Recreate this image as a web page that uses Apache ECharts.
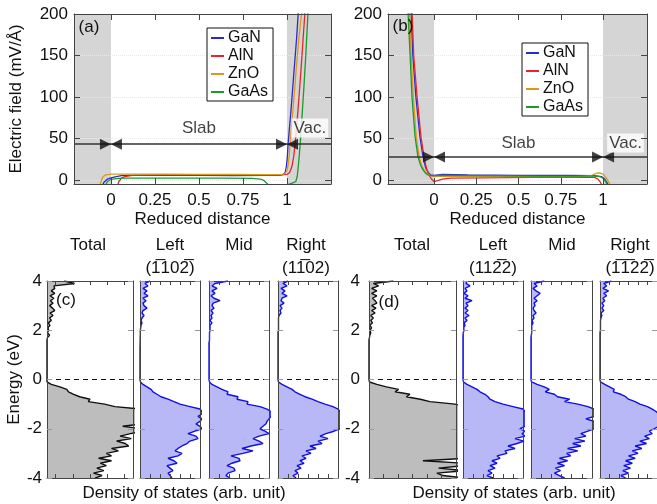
<!DOCTYPE html>
<html>
<head>
<meta charset="utf-8">
<title>Electric field and DOS</title>
<script src="https://cdn.jsdelivr.net/npm/echarts@6.0.0/dist/echarts.min.js"></script>
<style>
  html, body { margin: 0; padding: 0; background: #fff; }
  #main { width: 657px; height: 504px; }
</style>
</head>
<body>
<div id="main"></div>
<script>
const FONT = '"Liberation Sans", Arial, Helvetica, sans-serif';

// ---------- (a)(b) electric field: [reduced distance, mV/Å] ----------
const materials = ['GaN', 'AlN', 'ZnO', 'GaAs'];
const lineColors = ['#2a2ad2', '#e8252d', '#d99a1c', '#1c9a2c'];
const fieldTicksX = [0, 0.25, 0.5, 0.75, 1];
const fieldTicksY = [0, 50, 100, 150, 200];

const aGaN = [[-0.05,-8],[-0.04,-3],[-0.02,1],[0,2.5],[0.03,4],[0.06,5],[0.1,5.5],[0.3,5.5],[0.5,5.3],[0.7,5.2],[0.9,5.3],[0.96,5.6],[0.98,6.5],[0.99,9],[0.997,17],[1.002,28],[1.006,43],[1.015,65],[1.025,90],[1.035,118],[1.045,145],[1.055,172],[1.065,205]];
const aAlN = [[0.035,-8],[0.045,-2],[0.06,2],[0.08,4],[0.12,5.5],[0.3,6],[0.5,6],[0.7,5.8],[0.9,5.8],[0.97,6],[1.0,6.5],[1.015,9],[1.028,16],[1.038,28],[1.046,43],[1.058,72],[1.07,105],[1.082,140],[1.093,175],[1.103,205]];
const aZnO = [[-0.065,-8],[-0.055,-1],[-0.045,4],[-0.03,6],[0,7],[0.1,7],[0.3,6.8],[0.5,6.6],[0.7,6.5],[0.9,6.4],[0.97,6.5],[0.99,7.5],[1.0,11],[1.008,20],[1.013,30],[1.017,43],[1.028,70],[1.04,100],[1.053,135],[1.067,170],[1.085,205]];
const aGaAs = [[-0.035,-8],[-0.02,-2],[0,0.5],[0.03,1.5],[0.07,2],[0.3,2],[0.6,2],[0.8,1.8],[0.85,1],[0.87,-1],[0.89,-5],[0.91,-12],[0.98,-12],[1.0,-6],[1.03,-4],[1.05,-2],[1.058,4],[1.065,18],[1.07,30],[1.075,43],[1.085,75],[1.097,115],[1.108,155],[1.12,205]];

const bGaN = [[-0.136,205],[-0.125,150],[-0.107,100],[-0.083,52],[-0.065,28],[-0.05,15],[-0.035,9],[-0.02,6],[0,5.5],[0.05,6.5],[0.2,6],[0.5,5.5],[0.8,5.3],[0.95,5],[0.99,4],[1.01,1],[1.025,-4],[1.035,-8]];
const bAlN = [[-0.13,205],[-0.12,150],[-0.1,100],[-0.077,52],[-0.059,28],[-0.045,14],[-0.03,6],[-0.015,1],[0,-2],[0.02,-1],[0.05,1],[0.1,2],[0.3,2.5],[0.6,3],[0.9,3],[0.95,3],[0.97,1],[0.985,-3],[0.995,-8]];
const bZnO = [[-0.145,205],[-0.135,150],[-0.122,100],[-0.105,52],[-0.088,28],[-0.07,16],[-0.05,9],[-0.03,6],[0,4],[0.05,4.5],[0.3,4],[0.6,4],[0.85,4],[0.93,5],[0.96,8],[0.98,8.5],[1.0,7],[1.02,2],[1.035,-3],[1.045,-8]];
const bGaAs = [[-0.154,205],[-0.142,153],[-0.13,100],[-0.112,52],[-0.095,28],[-0.08,18],[-0.065,12],[-0.05,8],[-0.035,6],[-0.015,5],[0,5],[0.05,5.5],[0.1,5.5],[0.3,5],[0.6,4.5],[0.85,4.5],[0.95,4.5],[0.98,4],[1.0,2],[1.015,-2],[1.03,-8]];

// ---------- (c)(d) density of states, E = 4.0 ... -4.0 eV (step 0.1) ----------
const energies = [];
for (let k = 40; k >= -40; k--) energies.push((k / 10).toFixed(1));

const cTotal = [20,32,8,9,5,9,3.5,8,4,7, 3,6.5,9,3.5,7,3,5,1.5,3.5,1, 2,0.5,3,0.5,0,0,0,0,0,0, 0,0,0,0,0,0,0,0,0,0, 0,0,5,15,23,25,31,38,50,48, 67,79,110,110,110,110,110,110,110,88, 110,110,97,85,98,81,91,95,75,83, 69,75,60,75,62,69,58,66,54,64, 56];
const cLeft = [10,5,8,3,7,4,8,3,6,3, 4,7,3,2,4,2,1,2,1,0.7, 0.3,0.3,0.3,0.2,0.2,0.1,0.1,0,0,0, 0,0,0,0,0,0,0,0,0,0, 0,0.5,3,7,11,13,17,21,28,34, 40,50,60,62,62,58,62,60,56,60, 62,55,48,56,58,50,47,42,38,35, 42,38,28,34,37,27,30,33,28,30, 32];
const cMid = [19,6,3,8,3,6,2,5,11,4, 3,5,2,4,2,3,1,3,1,1, 1,0.5,0.5,0.5,0.5,0,0,0,0,0, 0,0,0,0,0,0,0,0,0,0, 0,0.5,3,8,13,19,18,29,28,39, 38,51,58,62,62,62,60,58,57,54, 51,56,60,50,44,50,54,42,33,44, 34,22,30,31,23,18,25,26,19,17, 21];
const cRight = [10,5,9,3,7,4,9,4,3,6, 2,4,2,3,1,0.5,0.5,0.5,0.5,0.5, 0.5,0,0,0,0,0,0,0,0,0, 0,0,0,0,0,0,0,0,0,0, 0,0.5,4,9,14,17,22,27,34,40, 47,55,60,62,62,62,62,62,62,62, 62,56,48,42,50,40,44,32,38,28, 33,24,28,22,26,19,23,17,20,15, 18];
const dTotal = [28,5,11,3,9,3,9,4,7,9, 3,8,3,7,2,5,2,4,1,3, 1,2,1,0.5,0,0,0,0,0,0, 0,0,0,0,0,0,0,0,0,0, 0,0.5,9,20,34,30,47,43,59,70, 99,110,110,110,110,110,110,110,110,110, 110,110,110,110,110,110,110,110,110,110, 110,110,110,62,110,110,80,110,78,85, 110];
const dLeft = [4,3,7,2,4,1,5,2,9,3, 5,2,5,2,6,2,4,1,2,0.7, 1,0.3,0,0,0,0,0,0,0,0, 0,0,0,0,0,0,0,0,0,0, 0,0.5,4,9,14,17,22,25,27,32, 40,50,60,62,62,62,62,62,62,62, 57,62,59,62,52,61,54,45,52,42, 44,34,37,29,34,27,32,25,29,24, 30];
const dMid = [13,3,6,2,5,9,6,3,6,3, 4,2,3,5,2,3,1,2,0.7,0.7, 0.7,0.7,0.3,0,0,0,0,0,0,0, 0,0,0,0,0,0,0,0,0,0, 0,0.5,6,13,18,14,23,26,38,33, 46,56,62,62,62,62,54,62,62,62, 62,56,49,54,43,53,41,49,36,46, 35,39,28,36,26,33,24,29,23,28, 33];
const dRight = [12,4,7,3,9,4,7,3,5,2, 4,2,4,1,2,1,0.5,0.5,0.5,0.5, 0.5,0,0,0,0,0,0,0,0,0, 0,0,0,0,0,0,0,0,0,0, 0,0.5,5,10,15,14,22,27,30,37, 42,50,55,59,62,62,62,62,62,62, 57,52,55,47,52,42,49,37,44,34, 40,30,37,27,34,25,32,24,30,22, 27];

const grids = [], xAxes = [], yAxes = [], series = [];
const lab = { fontSize: 17, color: '#111', fontFamily: FONT };
const frameLine = { show: true, onZero: false, lineStyle: { color: '#444', width: 1 } };

function addFieldPanel(p) {
  const g = grids.length;
  grids.push({ left: p.box[0], top: p.box[1], width: p.box[2], height: p.box[3] });
  const xi = xAxes.length, yi = yAxes.length;
  const tick = (vals) => ({ show: true, inside: true, length: 6, customValues: vals, lineStyle: { color: '#444' } });
  xAxes.push({ type: 'value', gridIndex: g, position: 'bottom', min: p.xr[0], max: p.xr[1], z: 10,
    axisLine: frameLine, axisTick: tick(fieldTicksX), splitLine: { show: false },
    axisLabel: { ...lab, margin: 8, customValues: fieldTicksX },
    name: 'Reduced distance', nameLocation: 'middle', nameGap: 27, nameTextStyle: lab });
  xAxes.push({ type: 'value', gridIndex: g, position: 'top', min: p.xr[0], max: p.xr[1], z: 10,
    axisLine: frameLine, axisTick: tick(fieldTicksX), splitLine: { show: false }, axisLabel: { show: false } });
  yAxes.push({ type: 'value', gridIndex: g, position: 'left', min: -5, max: 200, z: 10,
    axisLine: frameLine, axisTick: tick(fieldTicksY), splitLine: { show: false },
    axisLabel: { ...lab, margin: 6, customValues: fieldTicksY },
    name: p.yName || '', nameLocation: 'middle', nameGap: 49, nameRotate: 90, nameTextStyle: lab });
  yAxes.push({ type: 'value', gridIndex: g, position: 'right', min: -5, max: 200, z: 10,
    axisLine: frameLine, axisTick: tick(fieldTicksY), splitLine: { show: false }, axisLabel: { show: false } });
  const on = { xAxisIndex: xi, yAxisIndex: yi };

  // 真空区灰底 + 淡点线
  series.push({ type: 'line', ...on, data: [], silent: true,
    markArea: { silent: true, z: 1, itemStyle: { color: '#d5d5d5' },
      data: [[{ xAxis: p.xr[0] }, { xAxis: 0 }], [{ xAxis: 1 }, { xAxis: p.xr[1] }]] },
    markLine: { silent: true, z: 1.5, symbol: ['none', 'none'], label: { show: false },
      lineStyle: { color: '#e9e9e9', type: 'dotted', width: 1 },
      data: [0, 50, 100, 150].map(v => ({ yAxis: v })) } });

  p.curves.forEach((d, k) => series.push({ type: 'line', name: materials[k], ...on, data: d,
    showSymbol: false, z: 3, lineStyle: { color: lineColors[k], width: 1.3 }, itemStyle: { color: lineColors[k] } }));

  // Slab / Vac. 箭头
  series.push({ type: 'line', ...on, data: [], silent: true,
    markLine: { silent: true, symbol: ['none', 'none'], label: { show: false },
      lineStyle: { color: '#333', width: 1.5, type: 'solid' },
      data: [[{ coord: [p.xr[0], p.arrowY] }, { coord: [p.xr[1], p.arrowY] }]] } });
  series.push({ type: 'scatter', ...on, silent: true, z: 6, symbol: 'path://M0,0L10,5L0,10Z',
    symbolSize: [11, 11], symbolOffset: [-5.5, 0], itemStyle: { color: '#111' },
    data: [[0, p.arrowY], [1, p.arrowY]] });
  series.push({ type: 'scatter', ...on, silent: true, z: 6, symbol: 'path://M10,0L0,5L10,10Z',
    symbolSize: [11, 11], symbolOffset: [5.5, 0], itemStyle: { color: '#111' },
    data: [[0, p.arrowY], [1, p.arrowY]] });
  series.push({ type: 'scatter', ...on, silent: true, z: 7, symbolSize: 0,
    label: { show: true, position: 'inside', formatter: '{b}', ...lab },
    data: [{ name: 'Slab', value: [0.5, p.textY] },
           { name: 'Vac.', value: [p.vacX, p.textY], label: { backgroundColor: '#fff', padding: [2, 2, 0, 2] } }] });
}

function addDosPanel(p) {
  const g = grids.length;
  grids.push({ left: p.box[0], top: 281, width: p.box[1], height: 197 });
  const xi = xAxes.length, yi = yAxes.length;
  const every2 = (i) => i % 20 === 0;
  const xTick = { show: true, inside: true, length: 4, customValues: p.ticks, lineStyle: { color: '#444' } };
  const yTick = { show: true, inside: true, length: 5, interval: every2, lineStyle: { color: '#999' } };
  ['bottom', 'top'].forEach(pos => xAxes.push({ type: 'value', gridIndex: g, position: pos, min: 0, max: p.max, z: 10,
    axisLine: frameLine, axisTick: xTick, axisLabel: { show: false }, splitLine: { show: false } }));
  yAxes.push({ type: 'category', gridIndex: g, position: 'left', data: energies, inverse: true, boundaryGap: false, z: 10,
    axisLine: frameLine, axisTick: yTick, splitLine: { show: false },
    axisLabel: { ...lab, show: !!p.margin, interval: every2, margin: p.margin || 0, formatter: v => String(Number(v)) },
    name: p.yName || '', nameLocation: 'middle', nameGap: 22, nameRotate: 90, nameTextStyle: lab });
  yAxes.push({ type: 'category', gridIndex: g, position: 'right', data: energies, inverse: true, boundaryGap: false, z: 10,
    axisLine: frameLine, axisTick: yTick, splitLine: { show: false }, axisLabel: { show: false } });
  const stroke = p.total ? '#111' : '#1010e4';
  series.push({ type: 'line', xAxisIndex: xi, yAxisIndex: yi, data: p.values, showSymbol: false, silent: true, z: 2,
    lineStyle: { color: stroke, width: 1.4 }, itemStyle: { color: stroke },
    areaStyle: { color: p.total ? '#bdbdbd' : '#b8b8f6', opacity: 1 },
    markLine: { silent: true, symbol: ['none', 'none'], label: { show: false },
      lineStyle: { color: '#111', width: 1, type: [5, 4] }, data: [{ yAxis: '0.0' }] } });
}

addFieldPanel({ box: [74, 14, 257, 170], xr: [-0.21, 1.25], curves: [aGaN, aAlN, aZnO, aGaAs],
  arrowY: 43, textY: 62.5, vacX: 1.13, yName: 'Electric field (mV/Å)' });
addFieldPanel({ box: [388, 14, 259, 170], xr: [-0.272, 1.26], curves: [bGaN, bAlN, bZnO, bGaAs],
  arrowY: 27.6, textY: 44.5, vacX: 1.133 });

const sideTicks = [10, 20, 30, 40, 50];
addDosPanel({ box: [47, 86], max: 100, ticks: [10, 30, 50, 70, 90], values: cTotal, total: true, margin: 5, yName: 'Energy (eV)' });
addDosPanel({ box: [140, 60], max: 60, ticks: sideTicks, values: cLeft });
addDosPanel({ box: [209, 60], max: 60, ticks: sideTicks, values: cMid });
addDosPanel({ box: [278, 60], max: 60, ticks: sideTicks, values: cRight });
addDosPanel({ box: [369, 87], max: 100, ticks: [16.7, 33.3, 50, 66.7, 83.3], values: dTotal, total: true, margin: 9 });
addDosPanel({ box: [463, 60], max: 60, ticks: sideTicks, values: dLeft });
addDosPanel({ box: [531, 61], max: 60, ticks: sideTicks, values: dMid });
addDosPanel({ box: [600, 60], max: 60, ticks: sideTicks, values: dRight });

const OL = '\u0305';
const texts = [
  ['(a)', 89, 27], ['(b)', 403, 26], ['(c)', 66, 300], ['(d)', 389, 302],
  ['Total', 88, 245], ['Left', 170, 245], ['(1' + OL + '102' + OL + ')', 170, 268],
  ['Mid', 239, 245], ['Right', 306, 245], ['(11' + OL + '02)', 306, 268],
  ['Total', 412, 245], ['Left', 493, 245], ['(112' + OL + '2)', 493, 268],
  ['Mid', 562, 245], ['Right', 630, 245], ['(1' + OL + '1' + OL + '22' + OL + ')', 630, 268],
  ['Density of states (arb. unit)', 184, 493], ['Density of states (arb. unit)', 514, 493]
];

const legendBase = {
  data: materials, orient: 'vertical', icon: 'rect', itemWidth: 13, itemHeight: 2, itemGap: 2,
  backgroundColor: '#fff', borderColor: '#111', borderWidth: 1, borderRadius: 0, padding: [2, 5, 1, 4],
  selectedMode: false, textStyle: { fontSize: 16, color: '#111', fontFamily: FONT, padding: [0, 0, 0, -1] }
};

const chart = echarts.init(document.getElementById('main'));
chart.setOption({
  animation: false,
  backgroundColor: '#fff',
  textStyle: { fontFamily: FONT },
  legend: [{ ...legendBase, left: 207, top: 28 }, { ...legendBase, left: 522, top: 43 }],
  grid: grids,
  xAxis: xAxes,
  yAxis: yAxes,
  series: series,
  graphic: { elements: texts.map(t => ({ type: 'text', x: t[1], y: t[2], silent: true, z: 20,
    style: { text: t[0], fontSize: 17, fontFamily: FONT, fill: '#111', align: 'center', verticalAlign: 'middle' } })) }
});
window.addEventListener('resize', () => chart.resize());
</script>
</body>
</html>
